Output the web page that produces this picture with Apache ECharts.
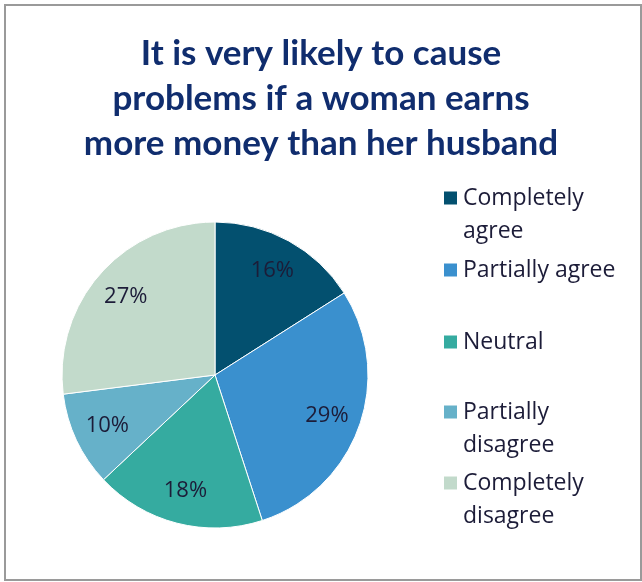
<!DOCTYPE html>
<html>
<head>
<meta charset="utf-8">
<script src="https://cdn.jsdelivr.net/npm/echarts@6/dist/echarts.min.js"></script>
<style>
  html, body { margin: 0; padding: 0; background: #fff; }
  #pie-chart { width: 642px; height: 582px; }
</style>
</head>
<body>
<div id="pie-chart"></div>
<script>
const titleText = 'It is very likely to cause\nproblems if a woman earns\nmore money than her husband';
const categories = ['Completely agree', 'Partially agree', 'Neutral', 'Partially disagree', 'Completely disagree'];
const legendLabels = ['Completely\nagree', 'Partially agree', 'Neutral', 'Partially\ndisagree', 'Completely\ndisagree'];
const shares = [16, 29, 18, 10, 27];
const colors = ['#03506F', '#3A90CE', '#35ABA0', '#66B1C9', '#C2DACB'];

const titleFont = 'Lato, "Noto Sans", sans-serif';
const font = '"Open Sans", "Noto Sans", sans-serif';
const legendLine = 33;
// first-line centre of each legend entry (the square sits on that line)
const legendRows = [198, 270, 342, 412, 483];

const myChart = echarts.init(document.getElementById('pie-chart'));

const pieData = categories.map((name, i) => ({
  name: name,
  value: shares[i],
  itemStyle: { color: colors[i] }
}));

// one legend per entry so each can sit on its own row;
// two-line names get a blank first line so the square lines up with the first word
const legends = categories.map((name, i) => {
  const twoLines = legendLabels[i].indexOf('\n') >= 0;
  return {
    left: 442,
    top: twoLines ? legendRows[i] - 1.5 * legendLine : legendRows[i] - legendLine / 2,
    orient: 'vertical',
    padding: 0,
    itemWidth: 15,
    itemHeight: 15,
    icon: 'rect',
    data: [{ name: name, itemStyle: { color: colors[i] } }],
    formatter: () => (twoLines ? ' \n' : '') + legendLabels[i],
    textStyle: {
      fontFamily: font,
      fontSize: 23,
      color: '#1c1c38',
      lineHeight: legendLine
    }
  };
});

const option = {
  animation: false,
  color: colors,
  title: {
    text: titleText,
    left: 'center',
    top: 31,
    padding: 0,
    textStyle: {
      fontFamily: titleFont,
      fontSize: 35,
      fontWeight: 'bold',
      color: '#102D6E',
      lineHeight: 45
    }
  },
  legend: legends,
  graphic: [{
    type: 'rect',
    shape: { x: 5, y: 5, width: 636, height: 575 },
    style: { fill: 'none', stroke: '#9a9a9a', lineWidth: 2 },
    silent: true
  }],
  series: [
    {
      name: 'slices',
      type: 'pie',
      center: [215, 375],
      radius: 153,
      startAngle: 90,
      clockwise: true,
      label: { show: false },
      labelLine: { show: false },
      itemStyle: { borderColor: '#ffffff', borderWidth: 1 },
      emphasis: { scale: false },
      data: pieData
    },
    {
      // invisible copy, used only to place the % labels further out
      name: 'labels',
      type: 'pie',
      center: [215, 375],
      radius: [0, 232],
      startAngle: 90,
      clockwise: true,
      silent: true,
      itemStyle: { color: 'rgba(0,0,0,0)' },
      emphasis: { disabled: true },
      label: {
        show: true,
        position: 'inside',
        formatter: '{c}%',
        fontFamily: font,
        fontSize: 22,
        color: '#1c1c38'
      },
      labelLine: { show: false },
      data: categories.map((name, i) => ({ name: name, value: shares[i] }))
    }
  ]
};

myChart.setOption(option);
</script>
</body>
</html>
